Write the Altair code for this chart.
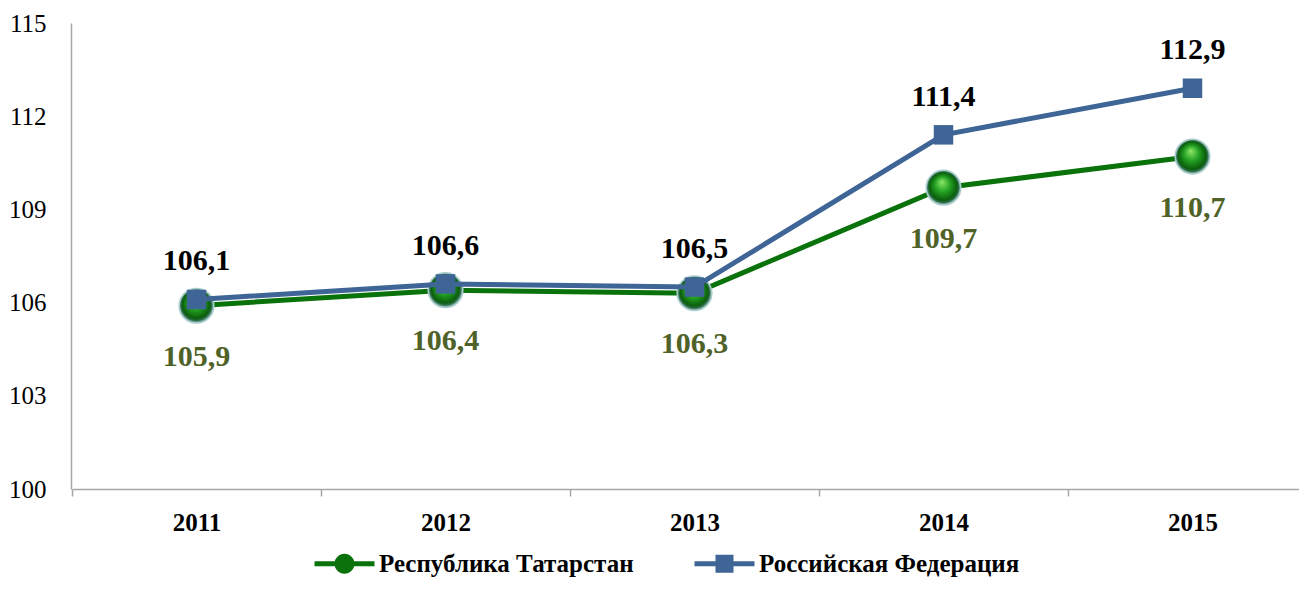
import altair as alt
import pandas as pd

years = ["2011", "2012", "2013", "2014", "2015"]
tatarstan = [105.9, 106.4, 106.3, 109.7, 110.7]
russia = [106.1, 106.6, 106.5, 111.4, 112.9]
series_names = ["Республика Татарстан", "Российская Федерация"]
y_ticks = [100, 103, 106, 109, 112, 115]

df = pd.DataFrame({
    "year": years * 2,
    "value": tatarstan + russia,
    "series": [series_names[0]] * len(years) + [series_names[1]] * len(years),
})

FONT = "Liberation Serif"
GREEN = "#0a720a"
BLUE = "#3e6596"
OLIVE = "#4f6228"
GRAY = "#a6a6a6"

x = alt.X(
    "year:N", sort=years,
    scale=alt.Scale(type="band", range=[1, 1246], paddingInner=0, paddingOuter=0),
    axis=alt.Axis(title=None, labelAngle=0, labelFont=FONT, labelFontSize=25,
                  labelFontWeight="bold", labelColor="black", tickBand="extent",
                  tickSize=7, tickColor=GRAY, tickWidth=1.5, domainColor=GRAY,
                  domainWidth=1.5, labelPadding=14, grid=False),
)
y = alt.Y(
    "value:Q",
    scale=alt.Scale(domain=[100, 115], nice=False, zero=False),
    axis=alt.Axis(values=y_ticks, title=None, ticks=False, tickSize=0,
                  labelFont=FONT, labelFontSize=25, labelColor="black",
                  labelPadding=25, domainColor=GRAY, domainWidth=1.5, grid=False),
)

base = alt.Chart(df).encode(x=x, y=y)
tat = base.transform_filter(alt.datum.series == series_names[0])
rus = base.transform_filter(alt.datum.series == series_names[1])

sphere = alt.RadialGradient(
    gradient="radial",
    stops=[
        alt.GradientStop(offset=0, color="#8ee86a"),
        alt.GradientStop(offset=0.45, color="#22a022"),
        alt.GradientStop(offset=0.8, color="#0b5d0b"),
        alt.GradientStop(offset=0.9, color="#2f6f4f"),
        alt.GradientStop(offset=1, color="#b6d6d6"),
    ],
    x1=0.45, y1=0.33, r1=0, x2=0.5, y2=0.5, r2=0.5,
)

green_line = tat.mark_line(color=GREEN, strokeWidth=5)
green_pts = tat.mark_point(shape="circle", filled=True, size=1200, fill=sphere,
                           stroke="#a9cccc", strokeWidth=1.5, opacity=1)
blue_line = rus.mark_line(color=BLUE, strokeWidth=5)
blue_pts = rus.mark_point(shape="square", filled=True, size=380, color=BLUE, opacity=1)

label_expr = "replace(format(datum.value, '.1f'), '.', ',')"
tat_text = tat.transform_calculate(label=label_expr).mark_text(
    dy=51, font=FONT, fontSize=30, fontWeight="bold", color=OLIVE
).encode(text="label:N")
rus_text = rus.transform_calculate(label=label_expr).mark_text(
    dy=-38, font=FONT, fontSize=30, fontWeight="bold", color="black"
).encode(text="label:N")

path_circle = "M-3,-0.25H3V0.25H-3Z M-1,0A1,1 0 1,1 1,0A1,1 0 1,1 -1,0Z"
path_square = "M-3,-0.25H3V0.25H-3Z M-0.9,-0.9H0.9V0.9H-0.9Z"

legend = alt.Legend(title=None, orient="none", legendX=261, legendY=528,
                    direction="horizontal", symbolSize=400, labelFont=FONT,
                    labelFontSize=25, labelFontWeight="bold", labelColor="black",
                    labelOffset=22, columnPadding=60, padding=0,
                    symbolStrokeWidth=0, symbolOpacity=1, labelLimit=0)

leg = alt.Chart(df).transform_filter("datum.value < 0").mark_point(
    filled=True, strokeWidth=0, opacity=1
).encode(
    x=x, y=y,
    color=alt.Color("series:N", scale=alt.Scale(domain=series_names, range=[GREEN, BLUE]), legend=legend),
    shape=alt.Shape("series:N", scale=alt.Scale(domain=series_names, range=[path_circle, path_square]), legend=legend),
)

chart = alt.layer(green_line, green_pts, blue_line, blue_pts, tat_text, rus_text, leg).properties(
    width=1228, height=466,
    autosize=alt.AutoSizeParams(type="none"),
    padding={"left": 63, "top": 15, "right": 0, "bottom": 92},
    background="white",
).configure_view(strokeWidth=0).configure_legend(labelFont=FONT, labelFontWeight="bold")

chart.save("out.html", embed_options={"renderer": "svg", "actions": False})
